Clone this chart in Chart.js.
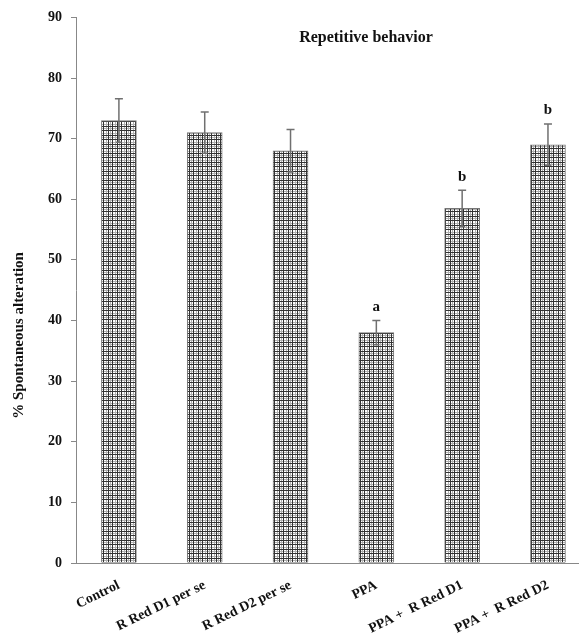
<!DOCTYPE html>
<html>
<head>
<meta charset="utf-8">
<script src="https://cdn.jsdelivr.net/npm/chart.js@4/dist/chart.umd.min.js"></script>
<style>
  html, body { margin: 0; padding: 0; background: #fff; }
  #wrap { width: 580px; height: 638px; position: relative; }
</style>
</head>
<body>
<div id="wrap"><canvas id="chart"></canvas></div>
<script>
const categories = ['Control', 'R Red D1 per se', 'R Red D2 per se', 'PPA', 'PPA +  R Red D1', 'PPA +  R Red D2'];
const spontaneousAlteration = [73, 71, 68, 38, 58.5, 69];
const errors = [3.6, 3.4, 3.5, 2, 3, 3.4];
const sigLetters = ['', '', '', 'a', 'b', 'b'];
const yTicks = [0, 10, 20, 30, 40, 50, 60, 70, 80, 90];

const serif = '"Liberation Serif", "Times New Roman", serif';

// grid hatch like the Excel pattern fill
function makeHatch() {
  const c = document.createElement('canvas');
  c.width = 9; c.height = 9;
  const g = c.getContext('2d');
  g.fillStyle = '#fff';
  g.fillRect(0, 0, 9, 9);
  g.fillStyle = '#b0b0b0';
  g.fillRect(2, 0, 1, 9); g.fillRect(7, 0, 1, 9);
  g.fillRect(0, 2, 9, 1); g.fillRect(0, 7, 9, 1);
  g.fillStyle = '#333';
  g.fillRect(0, 0, 1, 9); g.fillRect(4, 0, 1, 9);
  g.fillRect(0, 0, 9, 1); g.fillRect(0, 4, 9, 1);
  return g.createPattern(c, 'repeat');
}

const errorBars = {
  id: 'errorBars',
  afterDatasetsDraw(chart) {
    const { ctx } = chart;
    const y = chart.scales.y;
    const meta = chart.getDatasetMeta(0);
    ctx.save();
    ctx.strokeStyle = '#707070';
    ctx.lineWidth = 1.5;
    meta.data.forEach((bar, i) => {
      const top = y.getPixelForValue(spontaneousAlteration[i] + errors[i]);
      const bot = y.getPixelForValue(spontaneousAlteration[i] - errors[i]);
      ctx.beginPath();
      ctx.moveTo(bar.x, top); ctx.lineTo(bar.x, bot);
      ctx.moveTo(bar.x - 4, top); ctx.lineTo(bar.x + 4, top);
      ctx.moveTo(bar.x - 3, bot); ctx.lineTo(bar.x + 3, bot);
      ctx.stroke();
      if (sigLetters[i]) {
        ctx.fillStyle = '#111';
        ctx.font = 'bold 15px ' + serif;
        ctx.textAlign = 'center';
        ctx.textBaseline = 'bottom';
        ctx.fillText(sigLetters[i], bar.x, top - 6);
      }
    });
    ctx.restore();
  }
};

const titles = {
  id: 'titles',
  afterDraw(chart) {
    const { ctx, chartArea } = chart;
    ctx.save();
    ctx.fillStyle = '#111';
    ctx.font = 'bold 16px ' + serif;
    ctx.textAlign = 'center';
    ctx.textBaseline = 'middle';
    ctx.fillText('Repetitive behavior', chartArea.left + 290, chartArea.top + 20);
    ctx.translate(19, chartArea.top + 318);
    ctx.rotate(-Math.PI / 2);
    ctx.font = 'bold 15px ' + serif;
    ctx.fillText('% Spontaneous alteration', 0, 0);
    ctx.restore();
  }
};

new Chart(document.getElementById('chart'), {
  type: 'bar',
  data: {
    datasets: [{
      label: '% Spontaneous alteration',
      data: spontaneousAlteration.map((v, i) => ({ x: i, y: v })),
      backgroundColor: makeHatch(),
      borderColor: '#777',
      borderWidth: 1,
      barThickness: 35
    }]
  },
  options: {
    responsive: true,
    maintainAspectRatio: false,
    animation: false,
    layout: { padding: { top: 8, right: 2 } },
    plugins: { legend: { display: false }, tooltip: { enabled: false } },
    scales: {
      x: {
        type: 'linear',
        offset: false,
        min: -0.5,
        max: 5.35,
        afterFit(scale) { scale.height = 75; },
        grid: { display: true, drawOnChartArea: false, drawTicks: false },
        border: { display: true, color: '#888', width: 1 },
        ticks: {
          stepSize: 1,
          includeBounds: false,
          autoSkip: false,
          minRotation: 26,
          maxRotation: 26,
          padding: 14,
          color: '#111',
          font: { family: serif, size: 14, weight: 'bold' },
          callback: (v) => Number.isInteger(v) ? categories[v] : ''
        }
      },
      y: {
        min: 0,
        max: 90,
        afterFit(scale) { scale.width = 76; },
        afterBuildTicks(scale) { scale.ticks = yTicks.map(v => ({ value: v })); },
        grid: { drawOnChartArea: false, drawTicks: true, tickLength: 5, color: '#888' },
        border: { display: true, color: '#888', width: 1 },
        ticks: {
          padding: 9,
          color: '#111',
          font: { family: serif, size: 14, weight: 'bold' }
        }
      }
    }
  },
  plugins: [errorBars, titles]
});
</script>
</body>
</html>
